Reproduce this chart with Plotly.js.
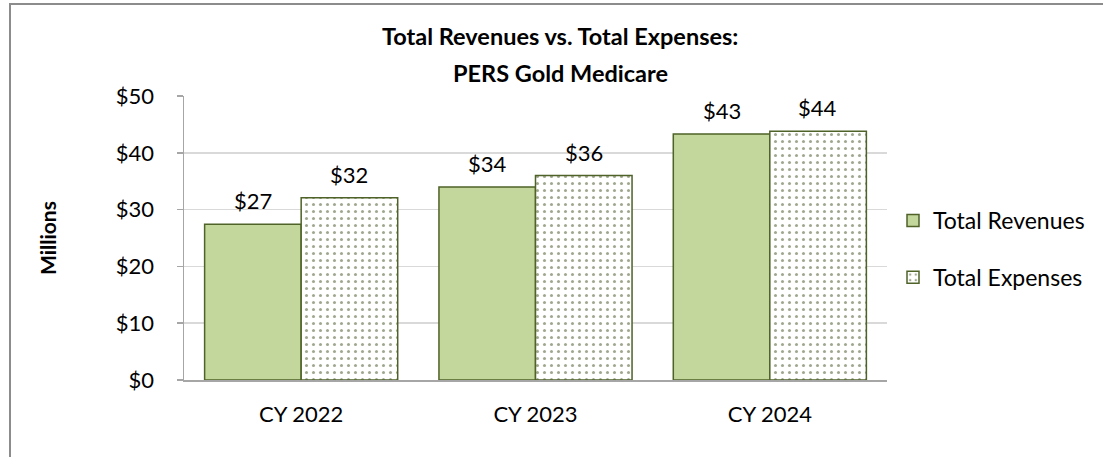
<!DOCTYPE html>
<html>
<head>
<meta charset="utf-8">
<script src="https://cdn.plot.ly/plotly-3.0.1.min.js"></script>
<style>html,body{margin:0;padding:0;background:#fff;}#chart{width:1103px;height:457px;}</style>
</head>
<body>
<div id="chart"></div>
<script>
const categories = ["CY 2022", "CY 2023", "CY 2024"];
const revenues = [27.4, 34.0, 43.3];
const expenses = [32.1, 36.0, 43.8];
const revenueLabels = ["$27", "$34", "$43"];
const expenseLabels = ["$32", "$36", "$44"];
const seriesNames = ["Total Revenues", "Total Expenses"];
const titleLines = ["Total Revenues vs. Total Expenses:", "PERS Gold Medicare"];
const yAxisTitle = "Millions";
const yTicks = [0, 10, 20, 30, 40, 50];
const yTickLabels = ["$0", "$10", "$20", "$30", "$40", "$50"];

const FONT = "Lato, 'Open Sans', sans-serif";
const outline = "#4f6228";
const L = 184, R = 887, T = 96, B = 380, W = 1103, H = 457;
const pw = R - L, ph = B - T;

const traces = [
  {
    type: "bar", name: seriesNames[0], x: categories, y: revenues,
    legendgroup: "a",
    marker: { color: "#c3d69b", line: { color: outline, width: 1.5 } },
    hoverinfo: "skip"
  },
  {
    type: "bar", name: seriesNames[1], x: categories, y: expenses,
    legendgroup: "b",
    marker: {
      color: "#ffffff",
      line: { color: outline, width: 1.5 },
      pattern: { shape: ".", fgcolor: "#3f5020", bgcolor: "#ffffff", size: 7, solidity: 0.15, fillmode: "overlay" }
    },
    hoverinfo: "skip"
  }
];

const annotations = [];
categories.forEach((c, i) => {
  annotations.push({ x: c, y: revenues[i], xref: "x", yref: "y", xshift: -48, yanchor: "bottom",
    yshift: 8, text: revenueLabels[i], showarrow: false, font: { family: FONT, size: 22, color: "#000" } });
  annotations.push({ x: c, y: expenses[i], xref: "x", yref: "y", xshift: 48, yanchor: "bottom",
    yshift: 8, text: expenseLabels[i], showarrow: false, font: { family: FONT, size: 22, color: "#000" } });
});
annotations.push({
  xref: "paper", yref: "paper", x: (47 - L) / pw, xanchor: "center", y: 0.5, yanchor: "middle",
  textangle: -90, showarrow: false,
  text: "<b>" + yAxisTitle + "</b>", font: { family: FONT, size: 21, color: "#000" }
});
annotations.push({
  xref: "paper", yref: "paper", x: (560 - L) / pw, xanchor: "center", y: (B - 36) / ph, yanchor: "middle",
  showarrow: false, text: "<b>" + titleLines[0] + "</b>", font: { family: FONT, size: 23.5, color: "#000" }
});
annotations.push({
  xref: "paper", yref: "paper", x: (560 - L) / pw, xanchor: "center", y: (B - 73) / ph, yanchor: "middle",
  showarrow: false, text: "<b>" + titleLines[1] + "</b>", font: { family: FONT, size: 23.5, color: "#000" }
});

const layout = {
  width: W, height: H,
  margin: { l: L, r: W - R, t: T, b: H - B },
  paper_bgcolor: "#ffffff", plot_bgcolor: "#ffffff",
  font: { family: FONT, size: 22, color: "#000" },
  barmode: "group", bargap: 0.176, bargroupgap: 0,
  xaxis: {
    type: "category", showline: true, linecolor: "#a6a6a6", linewidth: 1.5,
    ticks: "", tickfont: { family: FONT, size: 22 }, ticklabelstandoff: 14,
    showgrid: false, zeroline: false, fixedrange: true
  },
  yaxis: {
    range: [0, 50], tickvals: yTicks, ticktext: yTickLabels,
    showline: true, linecolor: "#a6a6a6", linewidth: 1.5,
    ticks: "outside", ticklen: 6, tickcolor: "#a6a6a6", tickwidth: 1.5,
    ticklabelstandoff: 18,
    showgrid: true, gridcolor: "#d9d9d9", gridwidth: 1.5, zeroline: false,
    tickfont: { family: FONT, size: 22 }, fixedrange: true
  },
  legend: {
    x: (893 - L) / pw, xanchor: "left", y: (B - 249) / ph, yanchor: "middle",
    traceorder: "grouped", tracegroupgap: 24,
    font: { family: FONT, size: 23, color: "#000" }, itemwidth: 30
  },
  annotations: annotations,
  shapes: [{
    type: "rect", xref: "paper", yref: "paper",
    x0: (10 - L) / pw, x1: 2, y0: -2, y1: (B - 4) / ph,
    line: { color: "#8c8c8c", width: 2 }, fillcolor: "rgba(0,0,0,0)", layer: "below"
  }]
};

Plotly.newPlot("chart", traces, layout, { displayModeBar: false, staticPlot: true });
</script>
</body>
</html>
